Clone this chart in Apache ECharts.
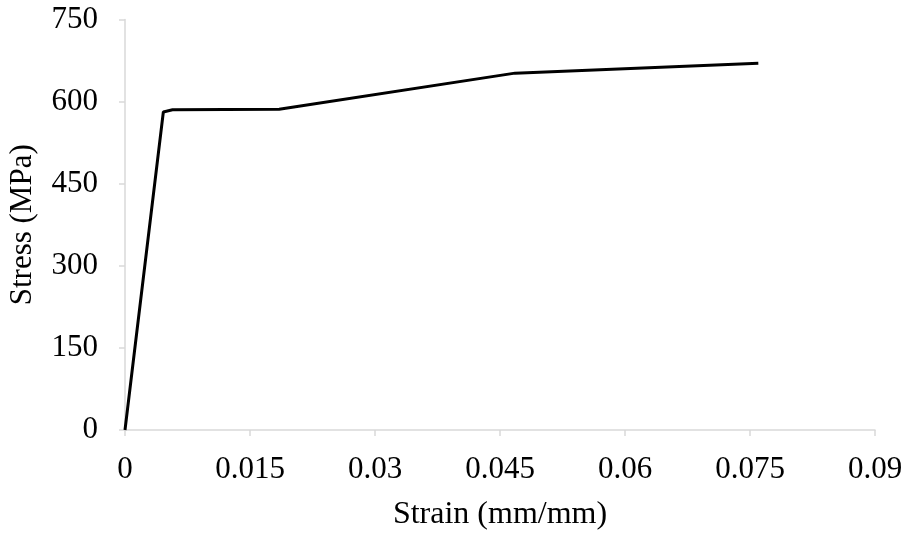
<!DOCTYPE html>
<html><head><meta charset="utf-8">
<script src="https://cdn.jsdelivr.net/npm/echarts@6/dist/echarts.min.js"></script>
<style>html,body{margin:0;padding:0;background:#fff}#c{width:907px;height:533px}</style>
</head><body><div id="c"></div>
<script>
var strain = [0, 0.0046, 0.0057, 0.0185, 0.0468, 0.0760];
var stress = [0, 581, 585, 586, 652, 670];
var xTicks = [0, 0.015, 0.03, 0.045, 0.06, 0.075, 0.09];
var yTicks = [0, 150, 300, 450, 600, 750];
var font = '"Liberation Serif", "Times New Roman", serif';
var chart = echarts.init(document.getElementById('c'));
chart.setOption({
  animation: false,
  grid: {left: 125, right: 32, top: 19.5, bottom: 103, outerBoundsMode: 'none', containLabel: false},
  xAxis: {
    type: 'value', min: 0, max: 0.09, interval: 0.015,
    name: 'Strain (mm/mm)', nameLocation: 'middle', nameGap: 69,
    nameTextStyle: {fontFamily: font, fontSize: 32, color: '#000'},
    axisLine: {lineStyle: {color: '#d9d9d9', width: 1.5}},
    axisTick: {show: true, length: 6, lineStyle: {color: '#d9d9d9', width: 1.5}},
    splitLine: {show: false},
    axisLabel: {fontFamily: font, fontSize: 31, color: '#000', margin: 24,
      formatter: function(v){ return String(+v.toFixed(3)); }}
  },
  yAxis: {
    type: 'value', min: 0, max: 750, interval: 150,
    name: 'Stress (MPa)', nameLocation: 'middle', nameGap: 87, nameRotate: 90,
    nameTextStyle: {fontFamily: font, fontSize: 31, color: '#000'},
    axisLine: {show: true, lineStyle: {color: '#d9d9d9', width: 1.5}},
    axisTick: {show: true, length: 6, lineStyle: {color: '#d9d9d9', width: 1.5}},
    splitLine: {show: false},
    axisLabel: {fontFamily: font, fontSize: 31, color: '#000', margin: 27,
      formatter: function(v){ return yTicks.indexOf(v) >= 0 ? String(v) : ''; }}
  },
  series: [{
    type: 'line', data: strain.map(function(x,i){return [x, stress[i]];}),
    showSymbol: false, lineStyle: {color: '#000', width: 3}
  }]
});
</script></body></html>
